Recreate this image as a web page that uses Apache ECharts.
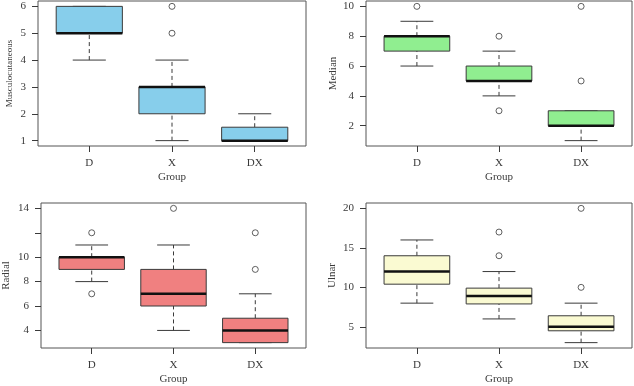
<!DOCTYPE html>
<html>
<head>
<meta charset="utf-8">
<script src="https://cdn.jsdelivr.net/npm/echarts@6/dist/echarts.min.js"></script>
<style>
  html, body { margin: 0; padding: 0; background: #fff; }
  #main { width: 634px; height: 386px; }
</style>
</head>
<body>
<div id="main"></div>
<script>
// groups on the x axis
var groups = ['D', 'X', 'DX'];

// box stats per group: [lower whisker, Q1, median, Q3, upper whisker]
var muscStats = [[4, 5, 5, 6, 6], [1, 2, 3, 3, 4], [1, 1, 1, 1.5, 2]];
var muscOutliers = [[], [5, 6], []];
var muscTicks = [1, 2, 3, 4, 5, 6];

var medianStats = [[6, 7, 8, 8, 9], [4, 5, 5, 6, 7], [1, 2, 2, 3, 3]];
var medianOutliers = [[10], [3, 8], [5, 10]];
var medianTicks = [2, 4, 6, 8, 10];

var radialStats = [[8, 9, 10, 10, 11], [4, 6, 7, 9, 11], [3, 3, 4, 5, 7]];
var radialOutliers = [[7, 12], [14], [9, 12]];
var radialTicks = [4, 6, 8, 10, 12, 14];
var radialLabels = [4, 6, 8, 10, 14];

var ulnarStats = [[8, 10.4, 12, 14, 16], [6, 7.9, 8.9, 9.9, 12], [3, 4.5, 5, 6.4, 8]];
var ulnarOutliers = [[], [14, 17], [10, 20]];
var ulnarTicks = [5, 10, 15, 20];

var FONT = 'Liberation Serif';
var INK = '#3a3a3a';

var panels = [
  { name: 'Musculocutaneous', stats: muscStats, out: muscOutliers, ticks: muscTicks, labels: muscTicks,
    fill: '#87CEEB', min: 0.8, max: 6.2, grid: { left: 38, top: 1, width: 268, height: 145 }, gap: 24, nameSize: 9 },
  { name: 'Median', stats: medianStats, out: medianOutliers, ticks: medianTicks, labels: medianTicks,
    fill: '#90EE90', min: 0.64, max: 10.36, grid: { left: 366, top: 1, width: 266, height: 145 }, gap: 27, nameSize: 11 },
  { name: 'Radial', stats: radialStats, out: radialOutliers, ticks: radialTicks, labels: radialLabels,
    fill: '#F08080', min: 2.56, max: 14.44, grid: { left: 38, top: 203, width: 268, height: 146 }, gap: 29, nameSize: 11 },
  { name: 'Ulnar', stats: ulnarStats, out: ulnarOutliers, ticks: ulnarTicks, labels: ulnarTicks,
    fill: '#FAFAD2', min: 2.32, max: 20.68, grid: { left: 366, top: 203, width: 266, height: 146 }, gap: 28, nameSize: 11 }
];

function boxRenderer(fill) {
  return function (params, api) {
    var x = api.value(0);
    var lo = api.coord([x, api.value(1)]);
    var q1 = api.coord([x, api.value(2)]);
    var md = api.coord([x, api.value(3)]);
    var q3 = api.coord([x, api.value(4)]);
    var hi = api.coord([x, api.value(5)]);
    var bw = api.size([0.8, 0])[0];
    var cw = bw / 4;
    var dash = { stroke: INK, lineWidth: 1, lineDash: [4, 3] };
    var solid = { stroke: INK, lineWidth: 1 };
    return {
      type: 'group',
      children: [
        { type: 'line', shape: { x1: lo[0], y1: lo[1], x2: q1[0], y2: q1[1] }, style: dash },
        { type: 'line', shape: { x1: q3[0], y1: q3[1], x2: hi[0], y2: hi[1] }, style: dash },
        { type: 'line', shape: { x1: lo[0] - cw, y1: lo[1], x2: lo[0] + cw, y2: lo[1] }, style: solid },
        { type: 'line', shape: { x1: hi[0] - cw, y1: hi[1], x2: hi[0] + cw, y2: hi[1] }, style: solid },
        { type: 'rect', shape: { x: q3[0] - bw / 2, y: q3[1], width: bw, height: q1[1] - q3[1] },
          style: { fill: fill, stroke: INK, lineWidth: 1 } },
        { type: 'line', shape: { x1: md[0] - bw / 2, y1: md[1], x2: md[0] + bw / 2, y2: md[1] },
          style: { stroke: '#111', lineWidth: 2.5 } }
      ]
    };
  };
}

var grids = [], xAxes = [], yAxes = [], series = [];
panels.forEach(function (p, i) {
  grids.push(Object.assign({ show: true, borderColor: '#555', borderWidth: 1, backgroundColor: 'transparent' }, p.grid));
  xAxes.push({
    type: 'value', gridIndex: i, min: 0.38, max: 3.62,
    name: 'Group', nameLocation: 'middle', nameGap: 26,
    nameTextStyle: { fontFamily: FONT, fontSize: 11, color: INK },
    axisLine: { show: false }, splitLine: { show: false },
    axisTick: { show: true, length: 6, customValues: [1, 2, 3], lineStyle: { color: INK } },
    axisLabel: { customValues: [1, 2, 3], margin: 12, fontFamily: FONT, fontSize: 11, color: INK,
      formatter: function (v) { return groups[Math.round(v) - 1]; } }
  });
  yAxes.push({
    type: 'value', gridIndex: i, min: p.min, max: p.max,
    name: p.name, nameLocation: 'middle', nameRotate: 90, nameGap: p.gap,
    nameTextStyle: { fontFamily: FONT, fontSize: p.nameSize, color: INK },
    axisLine: { show: false }, splitLine: { show: false },
    axisTick: { show: true, length: 6, customValues: p.ticks, lineStyle: { color: INK } },
    axisLabel: { customValues: p.labels, margin: 12, fontFamily: FONT, fontSize: 11, color: INK }
  });
  series.push({
    type: 'custom', xAxisIndex: i, yAxisIndex: i,
    renderItem: boxRenderer(p.fill),
    encode: { x: 0, y: [1, 2, 3, 4, 5] },
    data: p.stats.map(function (s, k) { return [k + 1].concat(s); }),
    silent: true
  });
  var pts = [];
  p.out.forEach(function (vals, k) {
    vals.forEach(function (v) { pts.push([k + 1, v]); });
  });
  series.push({
    type: 'scatter', xAxisIndex: i, yAxisIndex: i,
    symbol: 'circle', symbolSize: 6,
    itemStyle: { color: '#fff', borderColor: INK, borderWidth: 1 },
    data: pts, silent: true
  });
});

echarts.init(document.getElementById('main')).setOption({
  backgroundColor: '#fff',
  animation: false,
  grid: grids,
  xAxis: xAxes,
  yAxis: yAxes,
  series: series
});
</script>
</body>
</html>
